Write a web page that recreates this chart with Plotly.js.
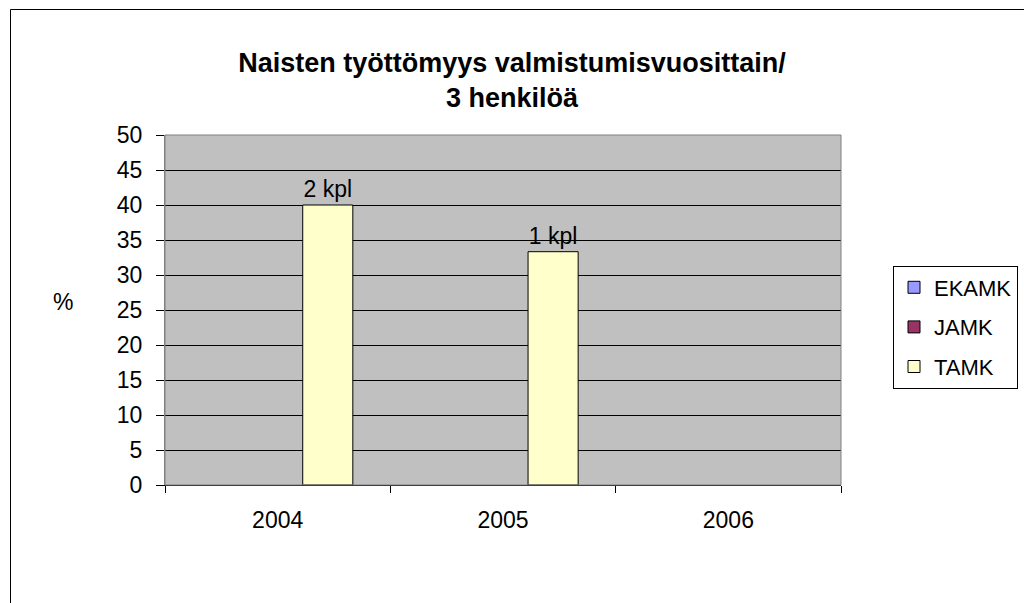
<!DOCTYPE html>
<html>
<head>
<meta charset="utf-8">
<script src="https://cdn.plot.ly/plotly-3.0.1.min.js"></script>
<style>html,body{margin:0;padding:0;background:#fff;}#chart{width:1024px;height:603px;}</style>
</head>
<body>
<div id="chart"></div>
<script>
const years = ["2004", "2005", "2006"];
const ekamk = [null, null, null];
const jamk = [null, null, null];
const tamk = [40, 33.33, null];
const tamkLabels = ["2 kpl", "1 kpl", ""];
const yTicks = [0, 5, 10, 15, 20, 25, 30, 35, 40, 45, 50];

const font = "Arial, 'Liberation Sans', sans-serif";
const line = {color: "#000000", width: 1};

const traces = [
  {type: "bar", name: "EKAMK", legendgroup: "a", x: years, y: ekamk, marker: {color: "#9999FF", line: line}},
  {type: "bar", name: "JAMK", legendgroup: "b", x: years, y: jamk, marker: {color: "#993366", line: line}},
  {type: "bar", name: "TAMK", legendgroup: "c", x: years, y: tamk, marker: {color: "#FFFFCC", line: line},
   text: tamkLabels, textposition: "outside", textfont: {size: 23, color: "#000", family: font},
   cliponaxis: false, hoverinfo: "x+y"}
];

const L = 165, R = 841, T = 135, B = 485;
const px = v => (v - L) / (R - L);
const py = v => (B - v) / (B - T);

const layout = {
  width: 1024, height: 603,
  margin: {l: L, r: 1024 - R, t: T, b: 603 - B, pad: 0, autoexpand: false},
  paper_bgcolor: "#ffffff",
  plot_bgcolor: "#C0C0C0",
  font: {family: font, size: 23, color: "#000"},
  title: {text: "<b>Naisten työttömyys valmistumisvuosittain/<br>3 henkilöä</b>",
          font: {size: 27, family: font, color: "#000"}, x: 0.5, xref: "container", y: 0.881, yref: "container", yanchor: "top"},
  barmode: "group", bargap: 0.333, bargroupgap: 0,
  showlegend: true,
  legend: {x: px(1018), xanchor: "right", y: py(327), yanchor: "middle",
           bgcolor: "#fff", bordercolor: "#000", borderwidth: 1,
           font: {size: 22, family: font}, itemwidth: 30, traceorder: "grouped", tracegroupgap: 8},
  xaxis: {type: "category", showgrid: false, showline: true, linecolor: "#000", linewidth: 1,
          ticks: "outside", ticklen: 7, tickcolor: "#000", tickson: "boundaries",
          tickfont: {size: 23}, ticklabelstandoff: 14, zeroline: false, fixedrange: true},
  yaxis: {range: [0, 50], tickvals: yTicks, ticktext: yTicks.map(String),
          showgrid: true, gridcolor: "#000", gridwidth: 1,
          showline: true, linecolor: "#808080", linewidth: 1,
          ticks: "outside", ticklen: 8, tickcolor: "#000",
          tickfont: {size: 23}, zeroline: false, fixedrange: true, ticklabelstandoff: 9},
  annotations: [{text: "%", xref: "paper", yref: "paper", x: px(63), y: py(302),
                 showarrow: false, font: {size: 23}, xanchor: "center", yanchor: "middle"}],
  shapes: [
    {type: "rect", xref: "paper", yref: "paper", x0: 0, x1: 1, y0: 0, y1: 1,
     line: {color: "#808080", width: 1}, fillcolor: "rgba(0,0,0,0)", layer: "above"},
    {type: "line", xref: "paper", yref: "paper", x0: px(10.5), x1: px(1030), y0: py(9.5), y1: py(9.5), line: {color: "#000", width: 1}},
    {type: "line", xref: "paper", yref: "paper", x0: px(10.5), x1: px(10.5), y0: py(9.5), y1: py(610), line: {color: "#000", width: 1}}
  ]
};

Plotly.newPlot("chart", traces, layout, {displayModeBar: false, staticPlot: true});
</script>
</body>
</html>
